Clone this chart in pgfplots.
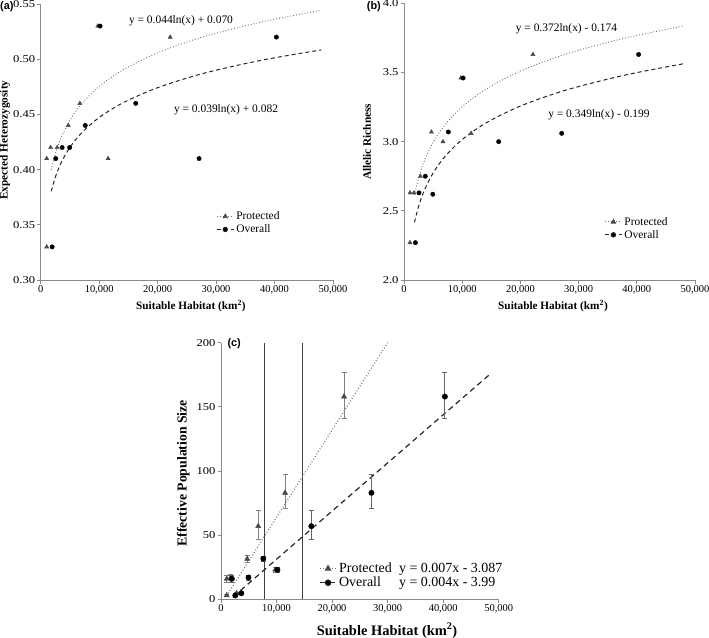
\documentclass[border=0pt]{standalone}
\usepackage{pgfplots}
\pgfplotsset{compat=1.18}
\usepackage{pgfplotstable}
\usepackage{fontspec}
\setmainfont{Liberation Serif}
\newfontfamily\sansf{Liberation Sans}
\definecolor{axgray}{HTML}{8A8A8A}
\definecolor{trigray}{HTML}{4A4A4A}
\definecolor{dotgray}{HTML}{6E6E6E}

% Panel (a)/(b) data: x = suitable habitat (km^2)
\pgfplotstableread{
x he ar
1030 0.41 2.63
1030 0.33 2.27
1700 0.42 2.63
2820 0.42 2.75
4720 0.44 3.07
6700 0.46 3.00
9760 0.53 3.46
11530 0.41 3.06
22150 0.52 3.63
}\prot
\pgfplotstableread{
x he ar
1960 0.33 2.27
2570 0.41 2.63
3660 0.42 2.75
4950 0.42 2.62
7620 0.44 3.07
10160 0.53 3.46
16260 0.46 3.00
27090 0.41 3.06
40310 0.52 3.63
}\over
% Panel (c) data
\pgfplotstableread{
x ne ep em
1030 3 1 1
1030 16 3 3
1700 16.5 3 3
2820 4.7 1 1
4720 31.5 3 3
6700 57 12 10
9760 23 2 2
11530 83 14 12
22150 158 19 17
}\protc
\pgfplotstableread{
x ne ep em
1960 16 3 3
2570 3 1 1
3660 4.7 1 1
4950 17 2 2
7620 31.7 2 2
10160 23 2 2
16260 57 12 10
27090 83 14 12
40310 158 19 17
}\overc
% trend lines
\pgfplotstableread{
x pa oa pb ob
1800 0.3998 0.3803 2.6143 2.4169
2500 0.4143 0.3931 2.7365 2.5316
3500 0.4291 0.4063 2.8617 2.6490
5000 0.4448 0.4202 2.9944 2.7735
7000 0.4596 0.4333 3.1196 2.8909
10000 0.4753 0.4472 3.2522 3.0154
14000 0.4901 0.4603 3.3774 3.1328
20000 0.5058 0.4742 3.5101 3.2573
28000 0.5206 0.4874 3.6353 3.3748
38000 0.5340 0.4993 3.7488 3.4813
48000 0.5443 0.5084 3.8358 3.5629
}\trend

\pgfplotsset{
  myaxis/.style={
    scale only axis, axis lines=left,
    axis line style={-, draw=axgray, line width=0.8bp},
    tick align=outside, major tick length=3.5bp,
    tick style={draw=axgray, line width=0.8bp},
    xmin=0, xmax=50000, xtick={0,10000,20000,30000,40000,50000},
    scaled x ticks=false, scaled y ticks=false,
    /pgf/number format/1000 sep={,},
    /pgf/number format/assume math mode=true,
    tick label style={font=\fontsize{10.5}{12}\selectfont},
    yticklabel style={xscale=1.2, inner sep=1.5bp},
    xticklabel style={inner sep=2bp},
    clip=true,
  },
  protmark/.style={only marks, mark=triangle*, mark size=2.4bp, mark options={fill=trigray, draw=trigray}},
  overmark/.style={only marks, mark=*, mark size=2.2bp, mark options={fill=black, draw=black}},
  dotline/.style={draw=dotgray, line width=0.9bp, dotted, no marks, smooth},
  dashline/.style={draw=black!85, line width=1bp, dash pattern=on 4bp off 3bp, no marks, smooth},
}

\begin{document}
\begin{tikzpicture}
\path[use as bounding box] (0,0) rectangle (709bp,-638bp);

% ---------------- (a)
\begin{axis}[myaxis, at={(40.7bp,-280bp)}, anchor=south west,
  width=292.3bp, height=276bp,
  ymin=0.30, ymax=0.55, ytick={0.30,0.35,0.40,0.45,0.50,0.55},
  yticklabel style={/pgf/number format/.cd, fixed, fixed zerofill, precision=2},
  xlabel={Suitable Habitat (km\textsuperscript{2})},
  xlabel style={at={(axis description cs:0.514,-0.094)}, anchor=center, font=\fontsize{11.3}{13}\selectfont\bfseries},
  ylabel={Expected Heterozygosity},
  ylabel style={at={(axis description cs:-0.122,0.507)}, anchor=center, font=\fontsize{11.3}{13}\selectfont\bfseries},
  legend style={at={(axis description cs:0.6,0.255)}, anchor=north west, draw=none, fill=none,
    font=\fontsize{11.5}{13}\selectfont, inner sep=0pt, row sep=-0.5bp},
  legend cell align=left,
]
\addplot[protmark, forget plot] table[x=x, y=he] {\prot};
\addplot[overmark, forget plot] table[x=x, y=he] {\over};
\addplot[dotline, forget plot] table[x=x, y=pa] {\trend};
\addplot[dashline, forget plot] table[x=x, y=oa] {\trend};
\addlegendimage{draw=dotgray, line width=0.9bp, dotted, mark=triangle*, mark size=2.4bp, mark options={solid, fill=trigray, draw=trigray}}
\addlegendentry{Protected}
\addlegendimage{draw=black!85, line width=1bp, dash pattern=on 4bp off 3bp, mark=*, mark size=2.2bp, mark options={solid, fill=black}}
\addlegendentry{Overall}
\node[font=\fontsize{11.5}{13}\selectfont] at (axis cs:24000,0.5346) {y = 0.044ln(x) + 0.070};
\node[font=\fontsize{11.5}{13}\selectfont] at (axis cs:31700,0.454) {y = 0.039ln(x) + 0.082};
\end{axis}
\node[anchor=west, inner sep=0pt, font=\sansf\bfseries\fontsize{11}{12}\selectfont] at (0bp,-6.5bp) {(a)};

% ---------------- (b)
\begin{axis}[myaxis, at={(404bp,-280bp)}, anchor=south west,
  width=291bp, height=276.7bp,
  ymin=2.0, ymax=4.0, ytick={2.0,2.5,3.0,3.5,4.0},
  yticklabel style={/pgf/number format/.cd, fixed, fixed zerofill, precision=1},
  xlabel={Suitable Habitat (km\textsuperscript{2})},
  xlabel style={at={(axis description cs:0.512,-0.094)}, anchor=center, font=\fontsize{11.3}{13}\selectfont\bfseries},
  ylabel={Allelic Richness},
  ylabel style={at={(axis description cs:-0.127,0.499)}, anchor=center, font=\fontsize{11.3}{13}\selectfont\bfseries},
  legend style={at={(axis description cs:0.688,0.235)}, anchor=north west, draw=none, fill=none,
    font=\fontsize{11.5}{13}\selectfont, inner sep=0pt, row sep=-0.5bp},
  legend cell align=left,
]
\addplot[protmark, forget plot] table[x=x, y=ar] {\prot};
\addplot[overmark, forget plot] table[x=x, y=ar] {\over};
\addplot[dotline, forget plot] table[x=x, y=pb] {\trend};
\addplot[dashline, forget plot] table[x=x, y=ob] {\trend};
\addlegendimage{draw=dotgray, line width=0.9bp, dotted, mark=triangle*, mark size=2.4bp, mark options={solid, fill=trigray, draw=trigray}}
\addlegendentry{Protected}
\addlegendimage{draw=black!85, line width=1bp, dash pattern=on 4bp off 3bp, mark=*, mark size=2.2bp, mark options={solid, fill=black}}
\addlegendentry{Overall}
\node[font=\fontsize{11.5}{13}\selectfont] at (axis cs:27920,3.814) {y = 0.372ln(x) - 0.174};
\node[font=\fontsize{11.5}{13}\selectfont] at (axis cs:33500,3.192) {y = 0.349ln(x) - 0.199};
\end{axis}
\node[anchor=west, inner sep=0pt, font=\sansf\bfseries\fontsize{11}{12}\selectfont] at (366.7bp,-6.5bp) {(b)};

% ---------------- (c)
\begin{axis}[myaxis, at={(221bp,-599.3bp)}, anchor=south west,
  width=277.7bp, height=256.6bp,
  ymin=0, ymax=200, ytick={0,50,100,150,200},
  xlabel={Suitable Habitat (km\textsuperscript{2})},
  xlabel style={at={(axis description cs:0.598,-0.122)}, anchor=center, font=\fontsize{14.5}{16}\selectfont\bfseries},
  ylabel={Effective Population Size},
  ylabel style={at={(axis description cs:-0.136,0.491)}, anchor=center, font=\fontsize{13.8}{16}\selectfont\bfseries},
  legend style={at={(axis description cs:0.352,0.15)}, anchor=north west, draw=none, fill=none,
    font=\fontsize{14}{15}\selectfont, inner sep=0pt, row sep=-1bp},
  legend cell align=left,
]
\addplot[draw=black!75, line width=1bp, forget plot] coordinates {(7920,0) (7920,200)};
\addplot[draw=black!75, line width=1bp, forget plot] coordinates {(14590,0) (14590,200)};
\addplot[draw=dotgray, line width=1bp, dotted, no marks, forget plot] coordinates {(1300,4.7) (30000,200)};
\addplot[draw=black!85, line width=1.2bp, dash pattern=on 5.5bp off 4bp, no marks, forget plot] coordinates {(2210,2) (48260,174.8)};
\addplot[only marks, mark=triangle*, mark size=3bp, mark options={fill=trigray, draw=trigray}, forget plot,
  error bars/.cd, y dir=both, y explicit,
  error bar style={draw=gray, line width=0.8bp},
  error mark options={rotate=90, mark size=2.5bp, draw=gray, line width=0.8bp}]
  table[x=x, y=ne, y error plus=ep, y error minus=em] {\protc};
\addplot[only marks, mark=*, mark size=2.7bp, mark options={fill=black, draw=black}, forget plot,
  error bars/.cd, y dir=both, y explicit,
  error bar style={draw=black!60, line width=0.8bp},
  error mark options={rotate=90, mark size=2.5bp, draw=black!60, line width=0.8bp}]
  table[x=x, y=ne, y error plus=ep, y error minus=em] {\overc};
\addlegendimage{draw=dotgray, line width=1bp, dotted, mark=triangle*, mark size=3bp, mark options={solid, fill=trigray, draw=trigray}}
\addlegendentry{\makebox[60bp][l]{Protected}y = 0.007x - 3.087}
\addlegendimage{draw=black!85, line width=1.2bp, dash pattern=on 5.5bp off 4bp, mark=*, mark size=2.7bp, mark options={solid, fill=black}}
\addlegendentry{\makebox[60bp][l]{Overall}y = 0.004x - 3.99}
\end{axis}
\node[anchor=west, inner sep=0pt, font=\sansf\bfseries\fontsize{11}{12}\selectfont] at (227.3bp,-344bp) {(c)};
\end{tikzpicture}
\end{document}
